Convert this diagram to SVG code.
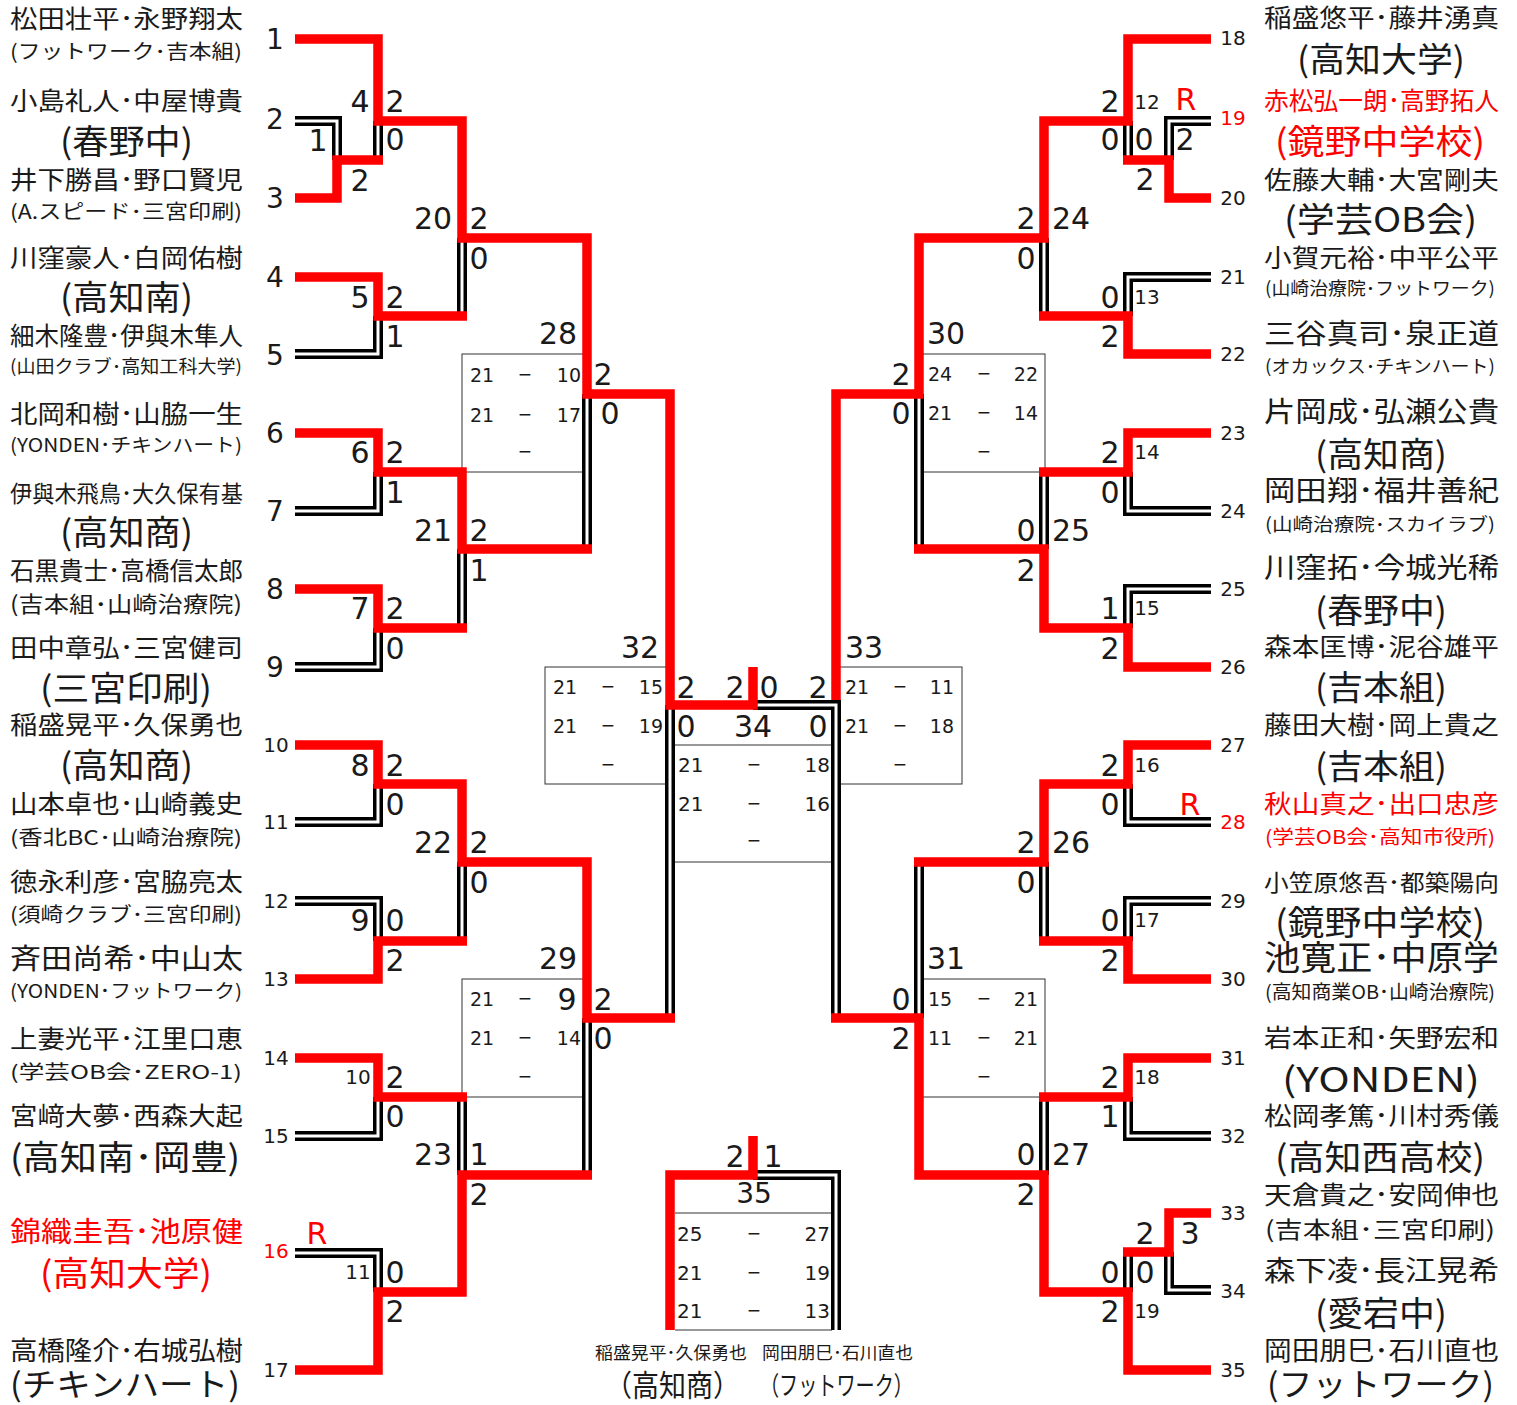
<svg xmlns="http://www.w3.org/2000/svg" xmlns:xlink="http://www.w3.org/1999/xlink" width="1517" height="1405" viewBox="0 0 1517 1405">
<style>
text{font-family:"Noto Sans CJK JP","Noto Sans",sans-serif;fill:#1a1a1a}
.r{fill:#ff0000}
.s,.sd,.ss,.b,.b2{font-family:"DejaVu Sans","Liberation Sans",sans-serif}
.s{font-size:30px;text-anchor:middle}
.sd{font-size:28px;text-anchor:middle}
.ss{font-size:20px;text-anchor:middle}
.b{font-size:19px}
.b2{font-size:20px}
.e{text-anchor:end}
.d{font-family:"Liberation Sans",sans-serif;font-size:22px;text-anchor:middle}
.box{fill:none;stroke:#333;stroke-width:1}
</style>
<defs>
<path id="dbl" d="M295 121H337V160 M378 121V160 M295 354H378V316 M462 316V238 M295 511H378V472 M295 667H378V628 M462 628V549 M587 549V394 M670 1018V705 M295 822H378V784 M295 901H378V941 M462 941V862 M295 1136H378V1097 M295 1253H378V1292 M462 1097V1175 M587 1175V1018 M753 705H836V1018 M753 1175H836V1330 M1211 121H1169V160 M1128 160V121 M1211 277H1128V316 M1044 316V238 M1211 511H1128V472 M1211 589H1128V628 M1044 472V549 M919 549V394 M1211 822H1128V784 M1211 901H1128V941 M1044 941V862 M919 862V1018 M1211 1136H1128V1097 M1211 1290H1169V1252 M1128 1252V1292 M1044 1097V1175"/>
</defs>
<g id="boxes">
<rect class="box" x="462" y="354" width="125" height="118"/>
<rect class="box" x="462" y="979" width="125" height="118"/>
<rect class="box" x="919" y="354" width="126" height="118"/>
<rect class="box" x="919" y="979" width="126" height="118"/>
<rect class="box" x="545" y="667" width="125" height="117"/>
<rect class="box" x="836" y="667" width="126" height="117"/>
<path class="box" d="M675 745H832 M675 862H832 M675 1213H832 M675 1330H832"/>
</g>
<g id="connectors">
<use xlink:href="#dbl" fill="none" stroke="#000" stroke-width="10"/>
<use xlink:href="#dbl" fill="none" stroke="#fff" stroke-width="3"/>
<path fill="none" stroke="#ff0000" stroke-width="9.5" d="M295 39H378V121H462V238H587V394H670V705H753V667 M295 198H337V160H383 M295 277H378V316H467 M295 433H378V472H462V549H592 M295 589H378V628H467 M295 745H378V784H462V862H587V1018H675 M295 979H378V941H467 M295 1058H378V1097H467 M295 1370H378V1292H462V1175H592 M670 1330V1175H753V1136 M1211 39H1128V121H1044V238H919V394H836V700 M1211 198H1169V160H1123 M1211 354H1128V316H1039 M1211 433H1128V472H1039 M1211 667H1128V628H1044V549H914 M1211 745H1128V784H1044V862H914 M1211 979H1128V941H1039 M1211 1058H1128V1097H1039 M1211 1213H1169V1252H1123 M1211 1370H1128V1292H1044V1175H919V1018H831"/>
</g>
<g id="p1"><text x="10" y="28" font-size="25" textLength="233" lengthAdjust="spacingAndGlyphs">松田壮平･永野翔太</text><text x="10" y="59" font-size="20" textLength="232" lengthAdjust="spacingAndGlyphs">(フットワーク･吉本組)</text><text class="sd" x="275" y="49">1</text></g>
<g id="p2"><text x="10" y="110" font-size="25" textLength="233" lengthAdjust="spacingAndGlyphs">小島礼人･中屋博貴</text><text x="60" y="154" font-size="34" textLength="133" lengthAdjust="spacingAndGlyphs">(春野中)</text><text class="sd" x="275" y="129">2</text></g>
<g id="p3"><text x="10" y="189" font-size="25" textLength="233" lengthAdjust="spacingAndGlyphs">井下勝昌･野口賢児</text><text x="10" y="219" font-size="20" textLength="232" lengthAdjust="spacingAndGlyphs">(A.スピード･三宮印刷)</text><text class="sd" x="275" y="208">3</text></g>
<g id="p4"><text x="10" y="267" font-size="25" textLength="233" lengthAdjust="spacingAndGlyphs">川窪豪人･白岡佑樹</text><text x="60" y="310" font-size="34" textLength="133" lengthAdjust="spacingAndGlyphs">(高知南)</text><text class="sd" x="275" y="287">4</text></g>
<g id="p5"><text x="10" y="345" font-size="25" textLength="233" lengthAdjust="spacingAndGlyphs">細木隆豊･伊與木隼人</text><text x="10" y="373" font-size="18" textLength="232" lengthAdjust="spacingAndGlyphs">(山田クラブ･高知工科大学)</text><text class="sd" x="275" y="365">5</text></g>
<g id="p6"><text x="10" y="423" font-size="25" textLength="233" lengthAdjust="spacingAndGlyphs">北岡和樹･山脇一生</text><text x="10" y="452" font-size="19" textLength="232" lengthAdjust="spacingAndGlyphs">(YONDEN･チキンハート)</text><text class="sd" x="275" y="443">6</text></g>
<g id="p7"><text x="10" y="502" font-size="23" textLength="233" lengthAdjust="spacingAndGlyphs">伊與木飛鳥･大久保有基</text><text x="60" y="545" font-size="34" textLength="133" lengthAdjust="spacingAndGlyphs">(高知商)</text><text class="sd" x="275" y="521">7</text></g>
<g id="p8"><text x="10" y="580" font-size="25" textLength="233" lengthAdjust="spacingAndGlyphs">石黒貴士･高橋信太郎</text><text x="10" y="612" font-size="22" textLength="232" lengthAdjust="spacingAndGlyphs">(吉本組･山崎治療院)</text><text class="sd" x="275" y="599">8</text></g>
<g id="p9"><text x="10" y="657" font-size="25" textLength="233" lengthAdjust="spacingAndGlyphs">田中章弘･三宮健司</text><text x="40" y="701" font-size="34" textLength="172" lengthAdjust="spacingAndGlyphs">(三宮印刷)</text><text class="sd" x="275" y="677">9</text></g>
<g id="p10"><text x="10" y="734" font-size="25" textLength="233" lengthAdjust="spacingAndGlyphs">稲盛晃平･久保勇也</text><text x="60" y="778" font-size="34" textLength="133" lengthAdjust="spacingAndGlyphs">(高知商)</text><text class="ss" x="276" y="752">10</text></g>
<g id="p11"><text x="10" y="813" font-size="25" textLength="233" lengthAdjust="spacingAndGlyphs">山本卓也･山崎義史</text><text x="10" y="845" font-size="20" textLength="232" lengthAdjust="spacingAndGlyphs">(香北BC･山崎治療院)</text><text class="ss" x="276" y="829">11</text></g>
<g id="p12"><text x="10" y="891" font-size="25" textLength="233" lengthAdjust="spacingAndGlyphs">徳永利彦･宮脇亮太</text><text x="10" y="922" font-size="20" textLength="232" lengthAdjust="spacingAndGlyphs">(須崎クラブ･三宮印刷)</text><text class="ss" x="276" y="908">12</text></g>
<g id="p13"><text x="10" y="969" font-size="28" textLength="233" lengthAdjust="spacingAndGlyphs">斉田尚希･中山太</text><text x="10" y="998" font-size="19" textLength="232" lengthAdjust="spacingAndGlyphs">(YONDEN･フットワーク)</text><text class="ss" x="276" y="986">13</text></g>
<g id="p14"><text x="10" y="1048" font-size="25" textLength="233" lengthAdjust="spacingAndGlyphs">上妻光平･江里口恵</text><text x="10" y="1079" font-size="19" textLength="232" lengthAdjust="spacingAndGlyphs">(学芸OB会･ZERO-1)</text><text class="ss" x="276" y="1065">14</text></g>
<g id="p15"><text x="10" y="1125" font-size="25" textLength="233" lengthAdjust="spacingAndGlyphs">宮﨑大夢･西森大起</text><text x="10" y="1170" font-size="34" textLength="230" lengthAdjust="spacingAndGlyphs">(高知南･岡豊)</text><text class="ss" x="276" y="1143">15</text></g>
<g id="p16"><text class="r" x="10" y="1242" font-size="28" textLength="233" lengthAdjust="spacingAndGlyphs">錦織圭吾･池原健</text><text class="r" x="40" y="1286" font-size="34" textLength="172" lengthAdjust="spacingAndGlyphs">(高知大学)</text><text class="ss r" x="276" y="1258">16</text><text class="s r" x="317" y="1244">R</text></g>
<g id="p17"><text x="10" y="1360" font-size="26" textLength="233" lengthAdjust="spacingAndGlyphs">高橋隆介･右城弘樹</text><text x="10" y="1396" font-size="32" textLength="230" lengthAdjust="spacingAndGlyphs">(チキンハート)</text><text class="ss" x="276" y="1377">17</text></g>
<g id="p18"><text x="1264" y="27" font-size="25" textLength="235" lengthAdjust="spacingAndGlyphs">稲盛悠平･藤井湧真</text><text x="1297" y="72" font-size="34" textLength="168" lengthAdjust="spacingAndGlyphs">(高知大学)</text><text class="ss" x="1233" y="45">18</text></g>
<g id="p19"><text class="r" x="1264" y="110" font-size="25" textLength="235" lengthAdjust="spacingAndGlyphs">赤松弘一朗･高野拓人</text><text class="r" x="1275" y="154" font-size="34" textLength="210" lengthAdjust="spacingAndGlyphs">(鏡野中学校)</text><text class="ss r" x="1233" y="125">19</text><text class="s r" x="1186" y="110">R</text></g>
<g id="p20"><text x="1264" y="189" font-size="25" textLength="235" lengthAdjust="spacingAndGlyphs">佐藤大輔･大宮剛夫</text><text x="1284" y="232" font-size="34" textLength="193" lengthAdjust="spacingAndGlyphs">(学芸OB会)</text><text class="ss" x="1233" y="205">20</text></g>
<g id="p21"><text x="1264" y="267" font-size="25" textLength="235" lengthAdjust="spacingAndGlyphs">小賀元裕･中平公平</text><text x="1265" y="295" font-size="18" textLength="230" lengthAdjust="spacingAndGlyphs">(山崎治療院･フットワーク)</text><text class="ss" x="1233" y="284">21</text></g>
<g id="p22"><text x="1264" y="344" font-size="28" textLength="235" lengthAdjust="spacingAndGlyphs">三谷真司･泉正道</text><text x="1265" y="373" font-size="18" textLength="230" lengthAdjust="spacingAndGlyphs">(オカックス･チキンハート)</text><text class="ss" x="1233" y="361">22</text></g>
<g id="p23"><text x="1264" y="422" font-size="28" textLength="235" lengthAdjust="spacingAndGlyphs">片岡成･弘瀬公貴</text><text x="1315" y="467" font-size="34" textLength="132" lengthAdjust="spacingAndGlyphs">(高知商)</text><text class="ss" x="1233" y="440">23</text></g>
<g id="p24"><text x="1264" y="501" font-size="28" textLength="235" lengthAdjust="spacingAndGlyphs">岡田翔･福井善紀</text><text x="1265" y="531" font-size="18" textLength="230" lengthAdjust="spacingAndGlyphs">(山崎治療院･スカイラブ)</text><text class="ss" x="1233" y="518">24</text></g>
<g id="p25"><text x="1264" y="578" font-size="28" textLength="235" lengthAdjust="spacingAndGlyphs">川窪拓･今城光稀</text><text x="1315" y="623" font-size="34" textLength="132" lengthAdjust="spacingAndGlyphs">(春野中)</text><text class="ss" x="1233" y="596">25</text></g>
<g id="p26"><text x="1264" y="656" font-size="25" textLength="235" lengthAdjust="spacingAndGlyphs">森本匡博･泥谷雄平</text><text x="1315" y="700" font-size="34" textLength="132" lengthAdjust="spacingAndGlyphs">(吉本組)</text><text class="ss" x="1233" y="674">26</text></g>
<g id="p27"><text x="1264" y="734" font-size="25" textLength="235" lengthAdjust="spacingAndGlyphs">藤田大樹･岡上貴之</text><text x="1315" y="779" font-size="34" textLength="132" lengthAdjust="spacingAndGlyphs">(吉本組)</text><text class="ss" x="1233" y="752">27</text></g>
<g id="p28"><text class="r" x="1264" y="813" font-size="25" textLength="235" lengthAdjust="spacingAndGlyphs">秋山真之･出口忠彦</text><text class="r" x="1265" y="844" font-size="19" textLength="230" lengthAdjust="spacingAndGlyphs">(学芸OB会･高知市役所)</text><text class="ss r" x="1233" y="829">28</text><text class="s r" x="1190" y="815">R</text></g>
<g id="p29"><text x="1264" y="891" font-size="23" textLength="235" lengthAdjust="spacingAndGlyphs">小笠原悠吾･都築陽向</text><text x="1275" y="935" font-size="34" textLength="210" lengthAdjust="spacingAndGlyphs">(鏡野中学校)</text><text class="ss" x="1233" y="908">29</text></g>
<g id="p30"><text x="1264" y="970" font-size="34" textLength="235" lengthAdjust="spacingAndGlyphs">池寛正･中原学</text><text x="1265" y="999" font-size="19" textLength="230" lengthAdjust="spacingAndGlyphs">(高知商業OB･山崎治療院)</text><text class="ss" x="1233" y="986">30</text></g>
<g id="p31"><text x="1264" y="1047" font-size="25" textLength="235" lengthAdjust="spacingAndGlyphs">岩本正和･矢野宏和</text><text x="1282" y="1092" font-size="34" textLength="198" lengthAdjust="spacingAndGlyphs">(YONDEN)</text><text class="ss" x="1233" y="1065">31</text></g>
<g id="p32"><text x="1264" y="1125" font-size="25" textLength="235" lengthAdjust="spacingAndGlyphs">松岡孝篤･川村秀儀</text><text x="1275" y="1170" font-size="34" textLength="210" lengthAdjust="spacingAndGlyphs">(高知西高校)</text><text class="ss" x="1233" y="1143">32</text></g>
<g id="p33"><text x="1264" y="1204" font-size="25" textLength="235" lengthAdjust="spacingAndGlyphs">天倉貴之･安岡伸也</text><text x="1265" y="1238" font-size="23" textLength="230" lengthAdjust="spacingAndGlyphs">(吉本組･三宮印刷)</text><text class="ss" x="1233" y="1220">33</text></g>
<g id="p34"><text x="1264" y="1281" font-size="28" textLength="235" lengthAdjust="spacingAndGlyphs">森下凌･長江晃希</text><text x="1315" y="1326" font-size="34" textLength="132" lengthAdjust="spacingAndGlyphs">(愛宕中)</text><text class="ss" x="1233" y="1298">34</text></g>
<g id="p35"><text x="1264" y="1360" font-size="26" textLength="235" lengthAdjust="spacingAndGlyphs">岡田朋巳･石川直也</text><text x="1267" y="1396" font-size="32" textLength="227" lengthAdjust="spacingAndGlyphs">(フットワーク)</text><text class="ss" x="1233" y="1377">35</text></g>
<g id="third-place">
<text x="595" y="1359" font-size="17" textLength="152" lengthAdjust="spacingAndGlyphs">稲盛晃平･久保勇也</text>
<text x="762" y="1359" font-size="17" textLength="151" lengthAdjust="spacingAndGlyphs">岡田朋巳･石川直也</text>
<text x="605" y="1396" font-size="30" textLength="135" lengthAdjust="spacingAndGlyphs">（高知商）</text>
<text x="760" y="1395" font-size="26" textLength="153" lengthAdjust="spacingAndGlyphs">（フットワーク）</text>
</g>
<g id="scores-left">
<text class="s" x="318" y="151">1</text><text class="s" x="360" y="191">2</text>
<text class="s" x="360" y="112">4</text><text class="s" x="395" y="112">2</text><text class="s" x="395" y="150">0</text>
<text class="s" x="360" y="308">5</text><text class="s" x="395" y="308">2</text><text class="s" x="395" y="347">1</text>
<text class="s" x="433" y="229">20</text><text class="s" x="479" y="229">2</text><text class="s" x="479" y="269">0</text>
<text class="s" x="360" y="463">6</text><text class="s" x="395" y="463">2</text><text class="s" x="395" y="503">1</text>
<text class="s" x="360" y="619">7</text><text class="s" x="395" y="619">2</text><text class="s" x="395" y="659">0</text>
<text class="s" x="433" y="541">21</text><text class="s" x="479" y="541">2</text><text class="s" x="479" y="581">1</text>
<text class="s" x="558" y="344">28</text><text class="s" x="603" y="385">2</text><text class="s" x="610" y="424">0</text>
<text class="s" x="360" y="776">8</text><text class="s" x="395" y="776">2</text><text class="s" x="395" y="815">0</text>
<text class="s" x="360" y="931">9</text><text class="s" x="395" y="931">0</text><text class="s" x="395" y="971">2</text>
<text class="s" x="433" y="853">22</text><text class="s" x="479" y="853">2</text><text class="s" x="479" y="893">0</text>
<text class="ss" x="358" y="1084">10</text><text class="s" x="395" y="1088">2</text><text class="s" x="395" y="1127">0</text>
<text class="ss" x="358" y="1279">11</text><text class="s" x="395" y="1283">0</text><text class="s" x="395" y="1322">2</text>
<text class="s" x="433" y="1165">23</text><text class="s" x="479" y="1165">1</text><text class="s" x="479" y="1205">2</text>
<text class="s" x="558" y="969">29</text><text class="s" x="603" y="1010">2</text><text class="s" x="603" y="1049">0</text>
<text class="s" x="640" y="658">32</text><text class="s" x="686" y="698">2</text><text class="s" x="686" y="737">0</text>
</g>
<g id="scores-final">
<text class="s" x="735" y="698">2</text><text class="s" x="769" y="698">0</text><text class="s" x="753" y="737">34</text>
<text class="s" x="735" y="1167">2</text><text class="s" x="773" y="1167">1</text><text class="sd" x="754" y="1203">35</text>
</g>
<g id="scores-right">
<text class="s" x="1110" y="112">2</text><text class="ss" x="1147" y="109">12</text><text class="s" x="1110" y="150">0</text>
<text class="s" x="1144" y="150">0</text><text class="s" x="1185" y="150">2</text><text class="s" x="1145" y="190">2</text>
<text class="s" x="1026" y="229">2</text><text class="s" x="1071" y="229">24</text><text class="s" x="1026" y="269">0</text>
<text class="s" x="1110" y="308">0</text><text class="ss" x="1147" y="304">13</text><text class="s" x="1110" y="347">2</text>
<text class="s" x="1110" y="463">2</text><text class="ss" x="1147" y="459">14</text><text class="s" x="1110" y="503">0</text>
<text class="s" x="1110" y="619">1</text><text class="ss" x="1147" y="615">15</text><text class="s" x="1110" y="659">2</text>
<text class="s" x="1026" y="541">0</text><text class="s" x="1071" y="541">25</text><text class="s" x="1026" y="581">2</text>
<text class="s" x="946" y="344">30</text><text class="s" x="901" y="385">2</text><text class="s" x="901" y="424">0</text>
<text class="s" x="1110" y="776">2</text><text class="ss" x="1147" y="772">16</text><text class="s" x="1110" y="815">0</text>
<text class="s" x="1110" y="931">0</text><text class="ss" x="1147" y="927">17</text><text class="s" x="1110" y="971">2</text>
<text class="s" x="1026" y="853">2</text><text class="s" x="1071" y="853">26</text><text class="s" x="1026" y="893">0</text>
<text class="s" x="1110" y="1088">2</text><text class="ss" x="1147" y="1084">18</text><text class="s" x="1110" y="1127">1</text>
<text class="s" x="1145" y="1244">2</text><text class="s" x="1190" y="1244">3</text><text class="s" x="1145" y="1283">0</text>
<text class="s" x="1110" y="1283">0</text><text class="s" x="1110" y="1322">2</text><text class="ss" x="1147" y="1318">19</text>
<text class="s" x="1026" y="1165">0</text><text class="s" x="1071" y="1165">27</text><text class="s" x="1026" y="1205">2</text>
<text class="s" x="946" y="969">31</text><text class="s" x="901" y="1010">0</text><text class="s" x="901" y="1049">2</text>
<text class="s" x="864" y="658">33</text><text class="s" x="818" y="698">2</text><text class="s" x="818" y="737">0</text>
</g>
<g id="game-scores">
<text class="b" x="470" y="382">21</text><text class="d" x="525" y="382">−</text><text class="b e" x="581" y="382">10</text>
<text class="b" x="470" y="422">21</text><text class="d" x="525" y="422">−</text><text class="b e" x="581" y="422">17</text>
<text class="d" x="525" y="459">−</text>
<text class="b" x="470" y="1006">21</text><text class="d" x="525" y="1006">−</text><text class="s" x="567" y="1010">9</text>
<text class="b" x="470" y="1045">21</text><text class="d" x="525" y="1045">−</text><text class="b e" x="581" y="1045">14</text>
<text class="d" x="525" y="1084">−</text>
<text class="b" x="928" y="381">24</text><text class="d" x="984" y="381">−</text><text class="b e" x="1038" y="381">22</text>
<text class="b" x="928" y="420">21</text><text class="d" x="984" y="420">−</text><text class="b e" x="1038" y="420">14</text>
<text class="d" x="984" y="459">−</text>
<text class="b" x="928" y="1006">15</text><text class="d" x="984" y="1006">−</text><text class="b e" x="1038" y="1006">21</text>
<text class="b" x="928" y="1045">11</text><text class="d" x="984" y="1045">−</text><text class="b e" x="1038" y="1045">21</text>
<text class="d" x="984" y="1084">−</text>
<text class="b" x="553" y="694">21</text><text class="d" x="608" y="694">−</text><text class="b e" x="663" y="694">15</text>
<text class="b" x="553" y="733">21</text><text class="d" x="608" y="733">−</text><text class="b e" x="663" y="733">19</text>
<text class="d" x="608" y="772">−</text>
<text class="b" x="845" y="694">21</text><text class="d" x="900" y="694">−</text><text class="b e" x="954" y="694">11</text>
<text class="b" x="845" y="733">21</text><text class="d" x="900" y="733">−</text><text class="b e" x="954" y="733">18</text>
<text class="d" x="900" y="772">−</text>
<text class="b2" x="678" y="772">21</text><text class="d" x="754" y="772">−</text><text class="b2 e" x="830" y="772">18</text>
<text class="b2" x="678" y="811">21</text><text class="d" x="754" y="811">−</text><text class="b2 e" x="830" y="811">16</text>
<text class="d" x="754" y="848">−</text>
<text class="b2" x="677" y="1241">25</text><text class="d" x="754" y="1241">−</text><text class="b2 e" x="830" y="1241">27</text>
<text class="b2" x="677" y="1280">21</text><text class="d" x="754" y="1280">−</text><text class="b2 e" x="830" y="1280">19</text>
<text class="b2" x="677" y="1318">21</text><text class="d" x="754" y="1318">−</text><text class="b2 e" x="830" y="1318">13</text>
</g>
</svg>
